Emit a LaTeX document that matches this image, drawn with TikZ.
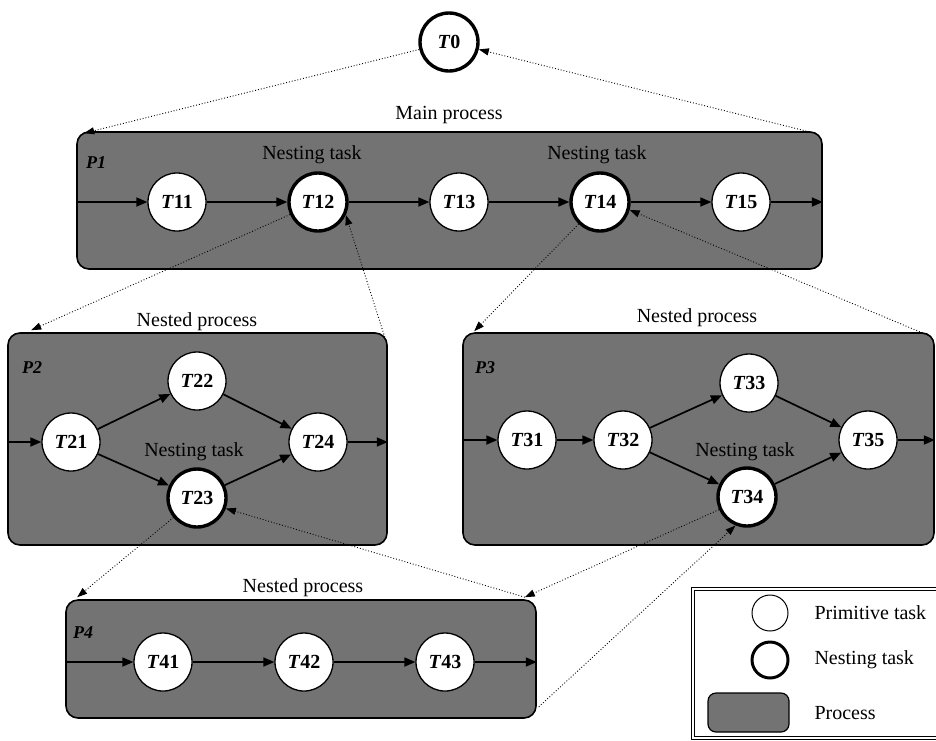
\documentclass[tikz,border=0pt]{standalone}
\usepackage{fontspec}
\setmainfont{Liberation Serif}
\usetikzlibrary{arrows.meta, positioning}

\newcommand{\tk}[1]{\textit{T}#1}

\begin{document}
\begin{tikzpicture}[
          x=1pt, y=-1pt,
          node distance=141pt, on grid,
          procbox/.style={draw, line width=1.6pt, rounded corners=12pt, fill=black!55, inner sep=0pt},
          task/.style={circle, draw, fill=white, line width=1.3pt, minimum size=58pt, inner sep=0pt, font=\fontsize{20}{21}\selectfont\bfseries},
          nesttask/.style={task, line width=3.4pt},
          flow/.style={-{Triangle[length=11pt, width=9pt]}, line width=1.7pt},
          link/.style={-{Triangle[length=10pt, width=7pt]}, dotted, line width=0.9pt},
          caption/.style={font=\fontsize{20}{22}\selectfont},
          plabel/.style={font=\fontsize{18}{20}\selectfont\bfseries\itshape}
        ]
        \fill[white] (0,0) rectangle (936,740);
        \useasboundingbox (0,0) rectangle (936,740);
        % process boxes
        \node[procbox, minimum width=745pt, minimum height=137pt] (P1) at (449.5,200.5) {};
        \node[procbox, minimum width=379pt, minimum height=212pt] (P2) at (197.5,439) {};
        \node[procbox, minimum width=471pt, minimum height=212pt] (P3) at (698.5,439) {};
        \node[procbox, minimum width=470pt, minimum height=118pt] (P4) at (301,659) {};
        \node[caption] (capP1) at (449,115) {Main process};
        \node[caption] (capP2) at (197,322) {Nested process};
        \node[caption] (capP3) at (697,318) {Nested process};
        \node[caption] (capP4) at (303,588) {Nested process};
        \node[plabel] (labP1) at (96,163) {P1};
        \node[plabel] (labP2) at (32,368) {P2};
        \node[plabel] (labP3) at (485,368) {P3};
        \node[plabel] (labP4) at (83,633) {P4};
        \node[caption] (nest12) at (312,155) {Nesting task};
        \node[caption] (nest14) at (597,155) {Nesting task};
        \node[caption] (nest23) at (194,452) {Nesting task};
        \node[caption] (nest34) at (745,452) {Nesting task};
        % tasks
        \node[nesttask] (T0) at (449,42) {\tk{0}};
        \node[task] (T11) at (177,202) {\tk{11}};
        \node[nesttask, right=of T11] (T12) {\tk{12}};
        \node[task, right=of T12] (T13) {\tk{13}};
        \node[nesttask, right=of T13] (T14) {\tk{14}};
        \node[task, right=of T14] (T15) {\tk{15}};
        \node[task] (T21) at (71,442) {\tk{21}};
        \node[task] (T22) at (197,381) {\tk{22}};
        \node[nesttask] (T23) at (197,498) {\tk{23}};
        \node[task] (T24) at (318,442) {\tk{24}};
        \node[task] (T31) at (527,440) {\tk{31}};
        \node[task, right=96pt of T31] (T32) {\tk{32}};
        \node[task] (T33) at (749,383) {\tk{33}};
        \node[nesttask] (T34) at (747,497) {\tk{34}};
        \node[task] (T35) at (868,440) {\tk{35}};
        \node[task] (T41) at (163,662) {\tk{41}};
        \node[task, right=of T41] (T42) {\tk{42}};
        \node[task, right=of T42] (T43) {\tk{43}};
        % flows
        \draw[flow] (P1.west |- T11) -- (T11);
        \draw[flow] (T11) -- (T12);
        \draw[flow] (T12) -- (T13);
        \draw[flow] (T13) -- (T14);
        \draw[flow] (T14) -- (T15);
        \draw[flow] (T15) -- (P1.east |- T15);
        \draw[flow] (P2.west |- T21) -- (T21);
        \draw[flow] (T21) -- (T22);
        \draw[flow] (T21) -- (T23);
        \draw[flow] (T22) -- (T24);
        \draw[flow] (T23) -- (T24);
        \draw[flow] (T24) -- (P2.east |- T24);
        \draw[flow] (P3.west |- T31) -- (T31);
        \draw[flow] (T31) -- (T32);
        \draw[flow] (T32) -- (T33);
        \draw[flow] (T32) -- (T34);
        \draw[flow] (T33) -- (T35);
        \draw[flow] (T34) -- (T35);
        \draw[flow] (T35) -- (P3.east |- T35);
        \draw[flow] (P4.west |- T41) -- (T41);
        \draw[flow] (T41) -- (T42);
        \draw[flow] (T42) -- (T43);
        \draw[flow] (T43) -- (P4.east |- T43);
        % nesting links
        \coordinate (P1nw) at ([shift={(8,2)}]P1.north west);
        \coordinate (P1ne) at ([shift={(-8,2)}]P1.north east);
        \coordinate (P2nw) at ([shift={(24,-2)}]P2.north west);
        \coordinate (P2ne) at ([shift={(-3,5)}]P2.north east);
        \coordinate (P3nw) at ([shift={(12,-1)}]P3.north west);
        \coordinate (P3ne) at ([shift={(-7,3)}]P3.north east);
        \coordinate (P4nw) at ([shift={(12,-2)}]P4.north west);
        \coordinate (P4ne) at ([shift={(-12,-2)}]P4.north east);
        \coordinate (P4se) at ([shift={(2,-12)}]P4.south east);
        \draw[link] (T0) -- (P1nw);
        \draw[link] (P1ne) -- (T0);
        \draw[link] (T12) -- (P2nw);
        \draw[link] (P2ne) -- (T12.-25);
        \draw[link] (T14) -- (P3nw);
        \draw[link] (P3ne) -- (T14.-15);
        \draw[link] (T23) -- (P4nw);
        \draw[link] (P4ne) -- (T23.-20);
        \draw[link] (T34) -- (P4ne);
        \draw[link] (P4se) -- (T34.-112);
        % legend
        \node[draw, line width=1.5pt, double, double distance=1.2pt, minimum width=254pt, minimum height=149pt] (legend) at (820,663.5) {};
        \node[task, minimum size=36pt, line width=1pt] (legPrim) at (770,613) {};
        \node[task, minimum size=36pt, line width=3pt] (legNest) at (770,660) {};
        \node[procbox, minimum width=81pt, minimum height=39pt, rounded corners=8pt, line width=1.2pt] (legProc) at (748.5,712.5) {};
        \node[caption, anchor=west] (legPrimTxt) at (811,613) {Primitive task};
        \node[caption, anchor=west] (legNestTxt) at (811,660) {Nesting task};
        \node[caption, anchor=west] (legProcTxt) at (811,713) {Process};
      \end{tikzpicture}
\end{document}
